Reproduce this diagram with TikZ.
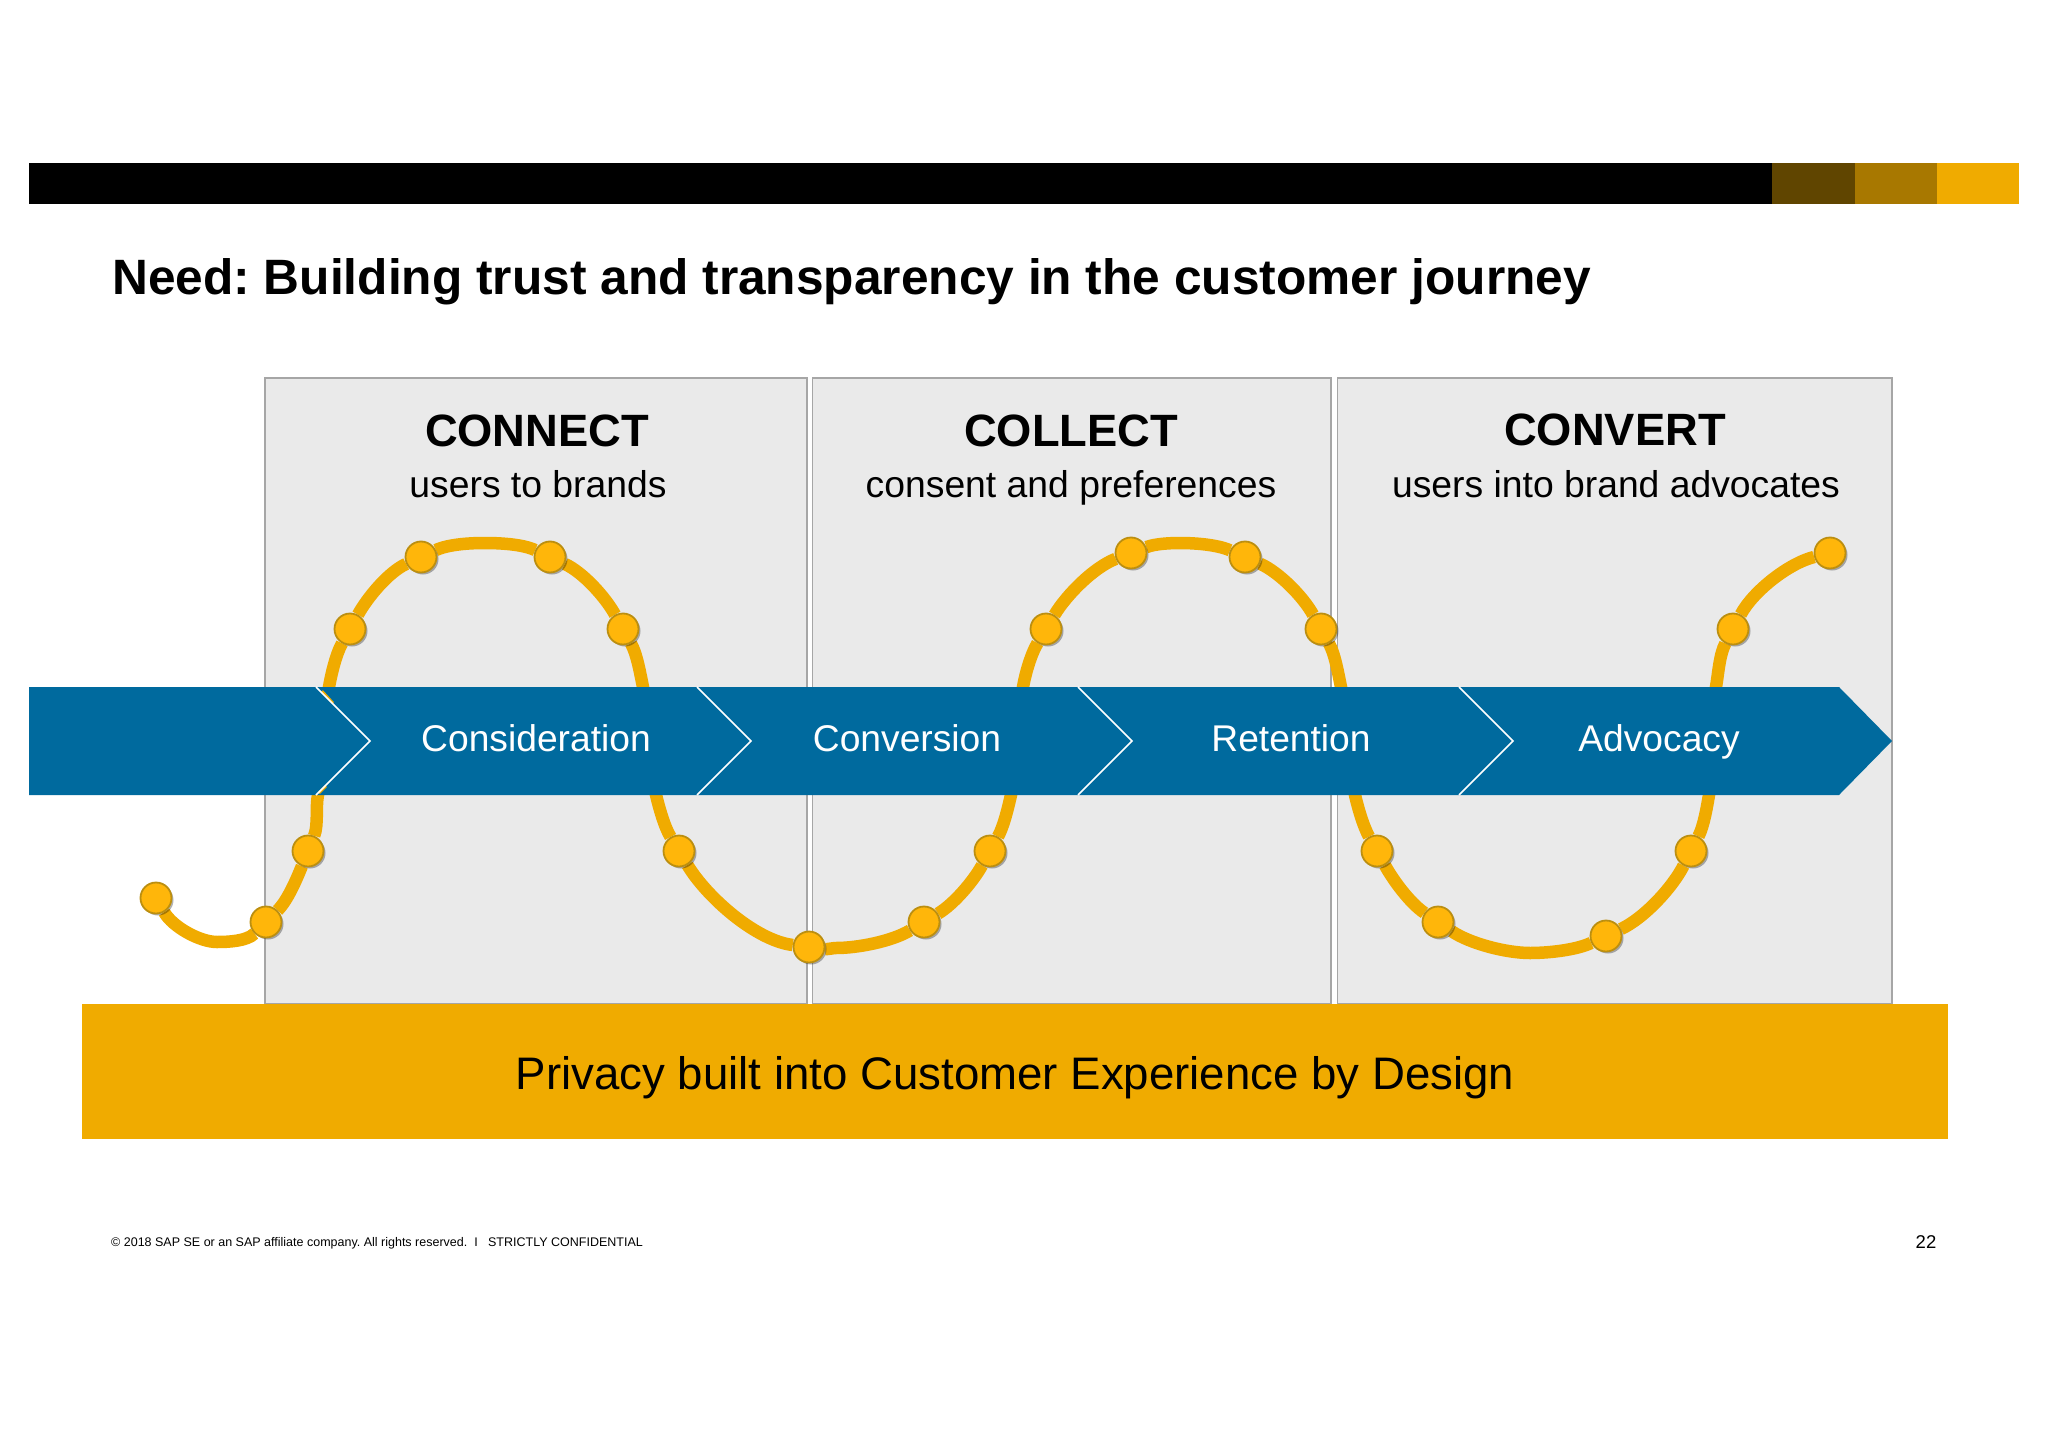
\documentclass[tikz,border=0pt]{standalone}
\usepackage{fontspec}
\setmainfont{Liberation Sans}
\usetikzlibrary{shadows,backgrounds}
\definecolor{gold}{HTML}{F0AB00}
\definecolor{goldmid}{HTML}{A87800}
\definecolor{golddark}{HTML}{604500}
\definecolor{sapblue}{HTML}{006A9E}
\definecolor{panel}{HTML}{EAEAEA}
\definecolor{panelline}{HTML}{A6A6A6}
\definecolor{dotfill}{HTML}{FFB60A}
\definecolor{dotedge}{HTML}{BC8F10}
\newcommand{\fs}[1]{\fontsize{#1}{#1}\selectfont}
\frenchspacing
\pgfdeclarelayer{boxes}\pgfdeclarelayer{curve}\pgfdeclarelayer{bar}
\pgfsetlayers{boxes,curve,bar,main}
\tikzset{
  panelbox/.style={draw=panelline,line width=1.4pt,fill=panel},
  dot/.style={circle,minimum size=31pt,inner sep=0pt,draw=dotedge,line width=1.8pt,
    fill=dotfill,drop shadow={shadow xshift=2pt,shadow yshift=-2pt,opacity=.3,fill=black}},
  head/.style={anchor=base,font=\bfseries\fs{45.3}},
  sub/.style={anchor=base,font=\fs{37.3}},
  stage/.style={anchor=base,text=white,font=\fs{37.2}},
  chev/.style={draw=white,line width=1.5pt,line join=miter},
  track/.style={draw=gold,line width=12.5pt,looseness=.72},
}
\begin{document}
\begin{tikzpicture}[x=1pt,y=-1pt]
\useasboundingbox (0,0) rectangle (2048,1447);
% top strip
\fill[black] (29,163) rectangle (1772,204);
\fill[golddark] (1772,163) rectangle (1855,204);
\fill[goldmid] (1855,163) rectangle (1937,204);
\fill[gold] (1937,163) rectangle (2019,204);
\node[anchor=base west,inner sep=0pt,font=\bfseries\fs{49.65}] (title) at (112,295) {Need: Building trust and transparency in the customer journey};
% panels
\begin{pgfonlayer}{boxes}
\fill[white] (0,0) rectangle (2048,1447);
\path[panelbox] (265,378) rectangle (807,1004);
\path[panelbox] (812.5,378) rectangle (1331,1004);
\path[panelbox] (1337.5,378) rectangle (1892,1004);
\end{pgfonlayer}
% dots
\foreach \n/\x/\y in {1/156/898,2/266/922,3/308/851,4/350/629,5/421/557,6/550/557,7/623/629,8/679/851,
  9/809/947,10/924/922,11/990/851,12/1046/629,13/1131/553,14/1245/557,15/1321/629,16/1377/851,
  18/1438/922,19/1606/936,20/1691/851,21/1733/629,22/1830/553}
  \node[dot] (d\n) at (\x,\y) {};
% way points of the track
\coordinate (m1) at (217,942);
\coordinate (a1) at (318,795); \coordinate (a2) at (329,687);
\coordinate (t1) at (484,543);
\coordinate (a3) at (643,687); \coordinate (a4) at (656,795);
\coordinate (m2) at (836,948);
\coordinate (a5) at (1011,795); \coordinate (a6) at (1023,687);
\coordinate (t2) at (1180,543);
\coordinate (a7) at (1341,687); \coordinate (a8) at (1355,795);
\coordinate (m3) at (1530,953);
\coordinate (a9) at (1709,795); \coordinate (a10) at (1716,687);
\begin{pgfonlayer}{curve}
\draw[track] (d1) to[out=-60,in=180] (m1) to[out=0,in=225] (d2) to[out=45,in=248] (d3)
  to[out=68,in=258] (a1) to[out=78,in=260] (a2) to[out=80,in=241] (d4) to[out=61,in=205] (d5)
  to[out=25,in=180] (t1) to[out=0,in=155] (d6) to[out=-25,in=119] (d7) to[out=-61,in=102] (a3)
  to[out=-78,in=104] (a4) to[out=-76,in=121] (d8) to[out=-59,in=173] (d9) to[out=-7,in=180] (m2)
  to[out=0,in=211] (d10) to[out=31,in=241] (d11) to[out=61,in=257] (a5) to[out=77,in=260] (a6)
  to[out=80,in=239] (d12) to[out=59,in=201] (d13) to[out=21,in=180] (t2) to[out=0,in=156] (d14)
  to[out=-24,in=119] (d15) to[out=-61,in=102] (a7) to[out=-78,in=103] (a8) to[out=-77,in=119] (d16)
  to[out=-61,in=146] (d18) to[out=-34,in=180] (m3) to[out=0,in=205] (d19) to[out=25,in=243] (d20)
  to[out=63,in=260] (a9) to[out=80,in=260] (a10) to[out=80,in=242] (d21) to[out=62,in=194] (d22);
\end{pgfonlayer}
% arrow band
\begin{pgfonlayer}{bar}
\fill[sapblue] (29,687) -- (1839,687) -- (1892,741) -- (1839,795) -- (29,795) -- cycle;
\draw[gold,line width=2.5pt] (322,691) -- (333,703);
\draw[gold,line width=2.5pt] (319,793) -- (326,786);
\foreach \c in {316,697,1078,1459}
  \draw[chev] (\c,687) -- (\c+54,741) -- (\c,795);
\end{pgfonlayer}
% band at the foot
\fill[gold] (82,1004) rectangle (1948,1139);
\node[anchor=base,font=\fs{45.6}] (privacy) at (1015,1089) {Privacy built into Customer Experience by Design};
% texts
\node[head] (h1) at (537,446) {CONNECT};
\node[sub] (s1) at (538,497) {users to brands};
\node[head] (h2) at (1071,446) {COLLECT};
\node[sub] (s2) at (1071,497) {consent and preferences};
\node[head] (h3) at (1615,445) {CONVERT};
\node[sub] (s3) at (1616,497) {users into brand advocates};
\node[stage] (c1) at (536,751) {Consideration};
\node[stage] (c2) at (907,751) {Conversion};
\node[stage] (c3) at (1291,751) {Retention};
\node[stage] (c4) at (1659,751) {Advocacy};
\node[anchor=base west,inner sep=0pt,font=\fs{12.5}] (foot) at (111,1246) {© 2018 SAP SE or an SAP affiliate company. All rights reserved.~~I~~~STRICTLY CONFIDENTIAL};
\node[anchor=base,font=\fs{18.5}] (page) at (1926,1248) {22};
\end{tikzpicture}
\end{document}
